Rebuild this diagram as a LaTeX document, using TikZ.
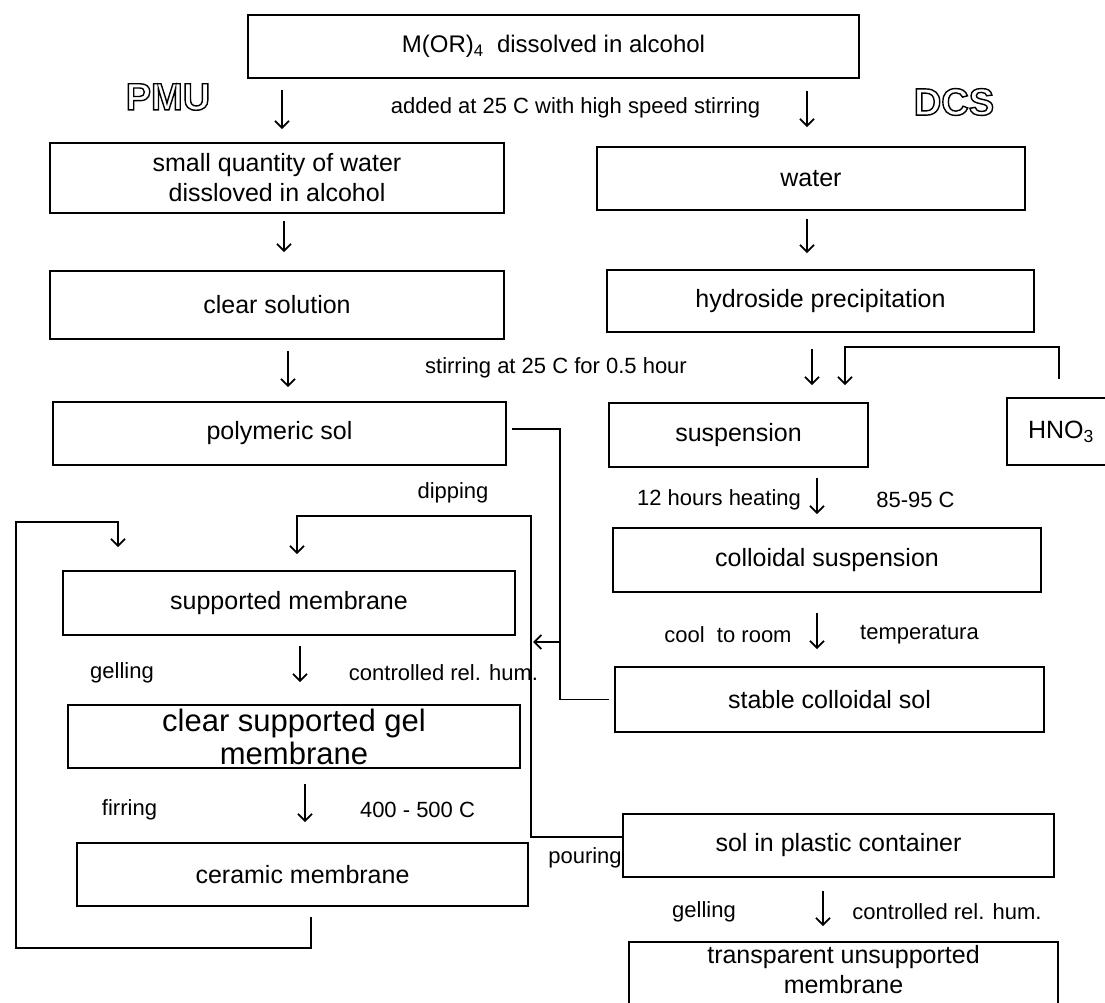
\documentclass[tikz,border=0pt]{standalone}
\usepackage{fontspec}
\setmainfont{Liberation Sans}
\usetikzlibrary{arrows.meta,calc}
\newcommand\hollowtext[1]{\special{pdf:literal direct 1 Tr 1.4 w}#1\special{pdf:literal direct 0 Tr}}
\begin{document}
\begin{tikzpicture}[x=1pt,y=-1pt,line width=1.8pt,
  box/.style={draw,line width=1.8pt,rectangle,inner sep=0pt,font=\fontsize{25}{30}\selectfont,align=center},
  lbl/.style={inner sep=0pt,font=\fontsize{22}{26}\selectfont},
  big/.style={inner sep=0pt,font=\fontsize{38}{40}\selectfont\bfseries},
  arr/.style={-{Straight Barb[length=7pt,width=14pt]},line width=1.8pt},
  link/.style={line width=1.8pt}]
\useasboundingbox (0,0) rectangle (1105,1003);
\clip (0,0) rectangle (1105,1003);

% boxes
\node[box,font=\fontsize{24}{28}\selectfont,minimum width=611pt,minimum height=63pt] (top) at (553.5,46.5) {M(OR)\textsubscript{4}\ \ dissolved in alcohol};
\node[box,minimum width=454pt,minimum height=70pt] (small) at (277,178) {small quantity of water\\dissloved in alcohol};
\node[box,minimum width=428pt,minimum height=63pt] (water) at (811,178.5) {water};
\node[box,minimum width=454pt,minimum height=68pt] (clear) at (277,305) {clear solution};
\node[box,minimum width=427pt,minimum height=62pt] (hyd) at (820.5,301) {hydroside precipitation};
\node[box,minimum width=453pt,minimum height=63pt] (poly) at (279.5,433.5) {polymeric sol};
\node[box,minimum width=259pt,minimum height=64pt] (susp) at (738.5,435) {suspension};
\node[box,minimum width=108pt,minimum height=67pt] (hno) at (1061,431.5) {HNO\textsubscript{3}};
\node[box,minimum width=452pt,minimum height=64pt] (supm) at (289,603) {supported membrane};
\node[box,minimum width=428pt,minimum height=64pt] (coll) at (827,560) {colloidal suspension};
\node[box,font=\fontsize{31}{33}\selectfont,minimum width=452pt,minimum height=63pt] (gel) at (294,736.5) {clear supported gel\\membrane};
\node[box,minimum width=429pt,minimum height=65pt] (stab) at (829.5,699.5) {stable colloidal sol};
\node[box,minimum width=451pt,minimum height=63pt] (cer) at (302.5,874.5) {ceramic membrane};
\node[box,minimum width=431pt,minimum height=63pt] (solp) at (838.5,845.5) {sol in plastic container};
\node[box,font=\fontsize{25}{30}\selectfont,text depth=22pt,minimum width=429pt,minimum height=76pt] (trans) at (843.5,980) {transparent unsupported\\membrane};

% big labels
\node[big] (pmu) at (168,97) {\hollowtext{PMU}};
\node[big] (dcs) at (954,102) {\hollowtext{DCS}};

% labels
\node[lbl] (l1) at (575.5,108) {added at 25 C with high speed stirring};
\node[lbl] (l2) at (556,368) {stirring at 25 C for 0.5 hour};
\node[lbl] (l3) at (453,493) {dipping};
\node[lbl] (l4) at (719,500) {12 hours heating};
\node[lbl] (l5) at (915.5,500) {85-95 C};
\node[lbl] (l6) at (122,673) {gelling};
\node[lbl] (l7) at (443.5,673) {controlled rel. hum.};
\node[lbl] (l8) at (728,635) {cool\ \ to room};
\node[lbl] (l9) at (919.5,635) {temperatura};
\node[lbl] (l10) at (129.5,810) {firring};
\node[lbl] (l11) at (417.5,810) {400 - 500 C};
\node[lbl] (l12) at (585,858) {pouring};
\node[lbl] (l13) at (704,912) {gelling};
\node[lbl] (l14) at (947,912) {controlled rel. hum.};

% straight arrows
\draw[arr,shorten <=11pt,shorten >=13pt] ([xshift=-271.5pt]top.south) -- ([xshift=5pt]small.north);
\draw[arr,shorten <=12pt,shorten >=19pt] ([xshift=253.5pt]top.south) -- ([xshift=-4pt]water.north);
\draw[arr,shorten <=7pt,shorten >=18pt] ([xshift=7pt]small.south) -- ([xshift=7pt]clear.north);
\draw[arr,shorten <=8pt,shorten >=16pt] ([xshift=-4pt]water.south) -- ([xshift=-13.5pt]hyd.north);
\draw[arr,shorten <=11pt,shorten >=14pt] ([xshift=11pt]clear.south) -- ([xshift=8.5pt]poly.north);
\draw[arr,shorten <=16pt,shorten >=17pt] ([xshift=-8.5pt]hyd.south) -- ([xshift=73.5pt]susp.north);
\draw[arr] ([xshift=-2pt,yshift=18pt]hno.north) -- ++(0,-32) -| ([xshift=106.5pt,yshift=17pt]susp.north);
\draw[arr,shorten <=10pt,shorten >=13pt] ([xshift=78.5pt]susp.south) -- ([xshift=-10pt]coll.north);
\draw[arr,shorten <=20pt,shorten >=17pt] ([xshift=-10pt]coll.south) -- ([xshift=-12.5pt]stab.north);
\draw[arr,shorten <=10pt,shorten >=22pt] ([xshift=11pt]supm.south) -- ([xshift=6pt]gel.north);
\draw[arr,shorten <=15pt,shorten >=20pt] ([xshift=11pt]gel.south) -- ([xshift=2.5pt]cer.north);
\draw[arr,shorten <=13pt,shorten >=15pt] ([xshift=-15.5pt]solp.south) -- ([xshift=-20.5pt]trans.north);

% bus: dipping / pouring
\coordinate (bustop) at (531,516);
\coordinate (busbot) at (531,837);
\draw[arr] (solp.west |- busbot) -- (busbot) -- (bustop) -| ([xshift=8pt,yshift=16pt]supm.north);

% polymeric sol and stable colloidal sol trunk
\coordinate (trunk) at (560,699.5);
\coordinate (trunkm) at (560,642);
\draw[link] ([xshift=5pt,yshift=4.5pt]poly.east) -| (trunk) -- ([xshift=-5pt]stab.west);
\draw[arr,shorten >=2pt] (trunkm) -- (bustop |- trunkm);

% recycling loop
\coordinate (loopc) at (16,522);
\draw[arr] ([xshift=8.5pt,yshift=-10pt]cer.south) -- ++(0,31) -| (loopc) -| ([xshift=-171pt,yshift=23pt]supm.north);
\end{tikzpicture}
\end{document}
